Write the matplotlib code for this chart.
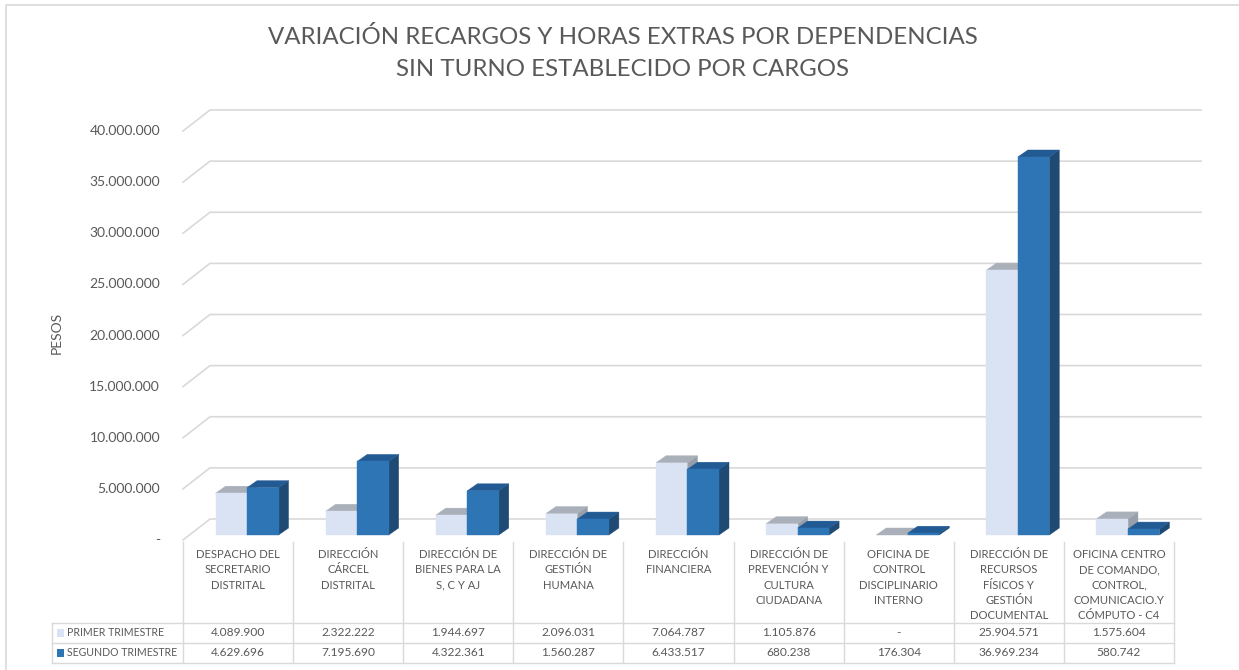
import matplotlib
matplotlib.use("Agg")
import matplotlib.pyplot as plt
import matplotlib.transforms as mtransforms
from matplotlib.patches import Polygon, Rectangle
from matplotlib.lines import Line2D

# ---------------- data ----------------
categories = [
    "DESPACHO DEL\nSECRETARIO\nDISTRITAL",
    "DIRECCIÓN\nCÁRCEL\nDISTRITAL",
    "DIRECCIÓN DE\nBIENES PARA LA\nS, C Y AJ",
    "DIRECCIÓN DE\nGESTIÓN\nHUMANA",
    "DIRECCIÓN\nFINANCIERA",
    "DIRECCIÓN DE\nPREVENCIÓN Y\nCULTURA\nCIUDADANA",
    "OFICINA DE\nCONTROL\nDISCIPLINARIO\nINTERNO",
    "DIRECCIÓN DE\nRECURSOS\nFÍSICOS Y\nGESTIÓN\nDOCUMENTAL",
    "OFICINA CENTRO\nDE COMANDO,\nCONTROL,\nCOMUNICACIO.Y\nCÓMPUTO - C4",
]
primer_trimestre = [4089900, 2322222, 1944697, 2096031, 7064787, 1105876, 0, 25904571, 1575604]
segundo_trimestre = [4629696, 7195690, 4322361, 1560287, 6433517, 680238, 176304, 36969234, 580742]
series_names = ["PRIMER TRIMESTRE", "SEGUNDO TRIMESTRE"]
ytick_values = [0, 5000000, 10000000, 15000000, 20000000, 25000000, 30000000, 35000000, 40000000]
title_lines = ["VARIACIÓN RECARGOS Y HORAS EXTRAS POR DEPENDENCIAS",
               "SIN TURNO ESTABLECIDO POR CARGOS"]
ylabel = "PESOS"

# ---------------- style ----------------
FONT = ["Lato", "DejaVu Sans"]
plt.rcParams["font.family"] = FONT
TXT = "#595959"
GRID = "#D9D9D9"
face_colors = [
    {"front": "#DAE3F3", "top": "#A9B0BA", "side": "#979FAA"},
    {"front": "#2E75B6", "top": "#225B94", "side": "#1F4A74"},
]

W, H = 1239, 670
fig = plt.figure(figsize=(W / 100, H / 100), dpi=100)
fig.patch.set_facecolor("white")
ax = fig.add_axes([183 / W, (H - 540) / H, 991 / W, 409 / H])
ax.set_xlim(-0.5, len(categories) - 0.5)
ax.set_ylim(0, 40000000)
ax.axis("off")

img = mtransforms.Affine2D().scale(1, -1).translate(0, H)   # image px -> display
xdata_yimg = mtransforms.blended_transform_factory(ax.transData, img)
ximg_ydata = mtransforms.blended_transform_factory(img, ax.transData)
ident = mtransforms.IdentityTransform()


def disp(x, v, ox=0.0, oy=0.0):
    X, Y = ax.transData.transform((x, v))
    return (X + ox, Y - oy)


def poly(pts, color, z):
    ax.add_patch(Polygon(pts, closed=True, facecolor=color, edgecolor=color,
                         linewidth=0.3, transform=ident, clip_on=False, zorder=z))


def fmt(v):
    return "-" if v == 0 else f"{v:,.0f}".replace(",", ".")


# ---------------- back wall gridlines ----------------
BX, BY = 27, -21
x_left, x_right = -0.5, len(categories) - 0.5
for v in ytick_values:
    p0 = disp(x_left, v)
    p1 = disp(x_left, v, BX, BY)
    p2 = disp(x_right, v, BX, BY)
    ax.add_line(Line2D([p0[0], p1[0], p2[0]], [p0[1], p1[1], p2[1]], color=GRID,
                       lw=1.2, transform=ident, clip_on=False, zorder=1))
    ax.text(160, v, fmt(v), transform=ximg_ydata,
            ha="right", va="center", fontsize=10, color=TXT)

# ---------------- 3D bars ----------------
BW = 0.286
OX, OY = 9, -5      # bar front plane offset
DX, DY = 10, -7     # bar depth
for i in range(len(categories)):
    for s, vals in enumerate([primer_trimestre, segundo_trimestre]):
        v = vals[i]
        x0 = i - BW if s == 0 else i
        x1 = x0 + BW
        c = face_colors[s]
        z = 3 + i * 0.1 + s * 0.05
        a = disp(x0, 0, OX, OY); b = disp(x1, 0, OX, OY)
        cc = disp(x1, v, OX, OY); d = disp(x0, v, OX, OY)
        poly([b, cc, (cc[0] + DX, cc[1] - DY), (b[0] + DX, b[1] - DY)], c["side"], z)
        poly([d, cc, (cc[0] + DX, cc[1] - DY), (d[0] + DX, d[1] - DY)], c["top"], z + 0.01)
        if v > 0:
            poly([a, b, cc, d], c["front"], z + 0.02)

# ---------------- data table ----------------
n = len(categories)
tx = lambda k: ax.transData.transform((k - 0.5, 0))[0]
for k in range(n + 1):
    ax.add_line(Line2D([k - 0.5, k - 0.5], [542, 663], color=GRID, lw=1.0,
                       transform=xdata_yimg, clip_on=False, zorder=1))
for yy in (623, 643, 663):
    ax.add_line(Line2D([52, tx(n)], [yy, yy], color=GRID, lw=1.0,
                       transform=img, clip_on=False, zorder=1))
ax.add_line(Line2D([52, 52], [623, 663], color=GRID, lw=1.0,
                   transform=img, clip_on=False, zorder=1))

for i, name in enumerate(categories):
    ax.text(i, 549, name, transform=xdata_yimg, ha="center", va="top",
            fontsize=8.1, color=TXT, linespacing=1.48)

for r, (vals, sname) in enumerate(zip([primer_trimestre, segundo_trimestre], series_names)):
    yc = 633 + 20 * r
    for i, v in enumerate(vals):
        ax.text(i, yc, fmt(v), transform=xdata_yimg, ha="center", va="center",
                fontsize=8.6, color=TXT)
    ax.add_patch(Rectangle((57, yc - 4), 7, 8, facecolor=face_colors[r]["front"],
                           edgecolor="none", transform=img, clip_on=False))
    ax.text(67, yc, sname, transform=img, ha="left", va="center", fontsize=7.6, color=TXT)

# ---------------- titles / labels / border ----------------
ax.text(623, 37, title_lines[0], transform=img, ha="center", va="center",
        fontsize=17.3, color=TXT)
ax.text(623, 70, title_lines[1], transform=img, ha="center", va="center",
        fontsize=17.3, color=TXT)
ax.text(57, 333, ylabel, transform=img, ha="center", va="center", rotation=90,
        fontsize=10, color=TXT)
ax.add_line(Line2D([6, 6, W], [H, 5, 5], color=GRID, lw=1.2, transform=img, clip_on=False))

fig.savefig("out.png", dpi=100, facecolor="white")
